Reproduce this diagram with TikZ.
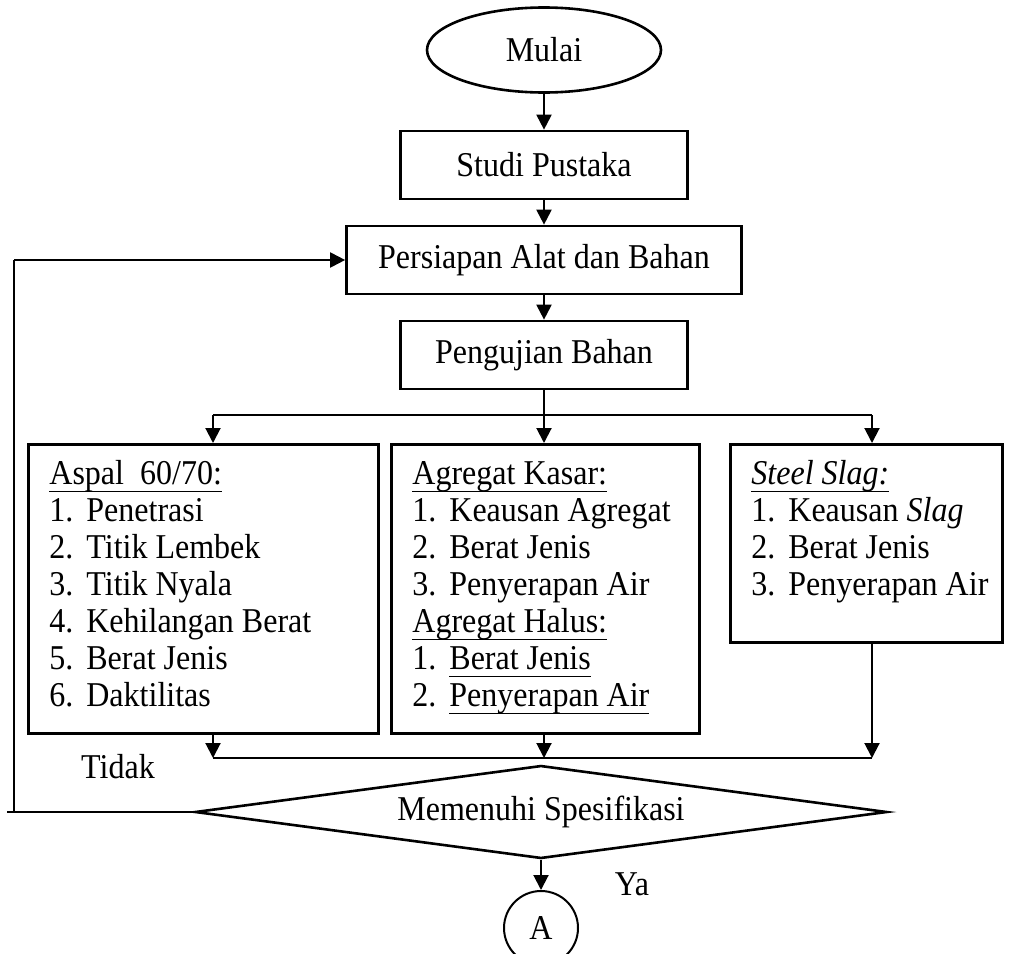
\documentclass[tikz,border=0pt]{standalone}
\usepackage{fontspec}
\setmainfont{Liberation Serif}[FakeStretch=0.92]
\usetikzlibrary{shapes.geometric,arrows.meta}

\newlength{\ulnwd}
\newcommand{\uln}[1]{\settowidth{\ulnwd}{#1}\rlap{\rule[-4pt]{\ulnwd}{0.65pt}}#1}
\newcommand{\nr}[1]{\makebox[18.5pt][l]{#1}}

\tikzset{
  every block/.style={font=\fontsize{17.4}{18.5}\selectfont, inner sep=0pt},
  process/.style={every block, draw, line width=1.35pt, rectangle},
  terminal/.style={every block, draw, line width=1.3pt, ellipse,
    minimum width=117pt, minimum height=42.5pt},
  decision/.style={every block, draw, line width=1.3pt, diamond, aspect=7.4,
    minimum width=346pt, minimum height=46.5pt},
  connector/.style={every block, draw, line width=1pt, circle, minimum size=37pt},
  list/.style={every block, align=left, anchor=north west},
  flow/.style={line width=1pt},
  thin flow/.style={line width=0.65pt}
}

\begin{document}
\begin{tikzpicture}[x=0.5pt, y=-0.5pt, >={Triangle[length=7.5pt,width=7.5pt]}]

\useasboundingbox (0,0) rectangle (1011,953);

\node [terminal] (mulai) at (544,50) {Mulai};
\node [process, minimum width=143.5pt, minimum height=34pt] (studi) at (544,165) {Studi Pustaka};
\node [process, minimum width=197.5pt, minimum height=34pt] (siap) at (544,260) {Persiapan Alat dan Bahan};
\node [process, minimum width=143.5pt, minimum height=34pt] (uji) at (544,355) {Pengujian Bahan};

\draw [flow, ->] (mulai) -- (studi);
\draw [flow, ->] (studi) -- (siap);
\draw [flow, ->] (siap) -- (uji);

\foreach \n/\x/\w/\h in {aspal/27/175/144.5, agregat/390/154/144.5, steel/729/136/99}
  \node [process, anchor=north west, minimum width=\w pt, minimum height=\h pt] (\n) at (\x,443) {};

\node [list] (aspal-list) at (49,458) {\strut\uln{Aspal\ \ 60/70:}\\
  \nr{1.}Penetrasi\\ \nr{2.}Titik Lembek\\ \nr{3.}Titik Nyala\\
  \nr{4.}Kehilangan Berat\\ \nr{5.}Berat Jenis\\ \nr{6.}Daktilitas};
\node [list] (agregat-list) at (412,458) {\strut\uln{Agregat Kasar:}\\
  \nr{1.}Keausan Agregat\\ \nr{2.}Berat Jenis\\ \nr{3.}Penyerapan Air\\
  \uln{Agregat Halus:}\\ \nr{1.}\uln{Berat Jenis}\\ \nr{2.}\uln{Penyerapan Air}};
\node [list] (steel-list) at (751,458) {\strut\uln{\textit{Steel Slag:}}\\
  \nr{1.}Keausan \textit{Slag}\\ \nr{2.}Berat Jenis\\ \nr{3.}Penyerapan Air};

\foreach \n/\x in {aspal/213, agregat/544, steel/872} {
  \coordinate (fork-\n) at (\x,415);
  \coordinate (join-\n) at (\x,758);
}

\draw [flow, ->] (uji) -- (fork-agregat |- agregat.north);
\draw [thin flow] (fork-aspal) -- (fork-steel);
\foreach \n in {aspal, steel}
  \draw [flow, ->] (fork-\n) -- (fork-\n |- \n.north);

\foreach \n in {aspal, agregat, steel}
  \draw [flow, ->] (join-\n |- \n.south) -- (join-\n);
\draw [thin flow] (join-aspal) -- (join-steel);

\node [decision] (cek) at (541,812) {Memenuhi Spesifikasi};
\node [connector] (a) at (541,928) {A};
\draw [flow, ->] (cek) -- (a);

\coordinate (back) at (14,812);
\draw [thin flow] (cek.west) -- (back) -- ++(-7,0);
\draw [thin flow] (back) -- (back |- siap.west);
\draw [flow, ->] (back |- siap.west) -- (siap.west);

\node [every block] (tidak) at (118,767) {Tidak};
\node [every block] (ya) at (632,884) {Ya};

\end{tikzpicture}
\end{document}
